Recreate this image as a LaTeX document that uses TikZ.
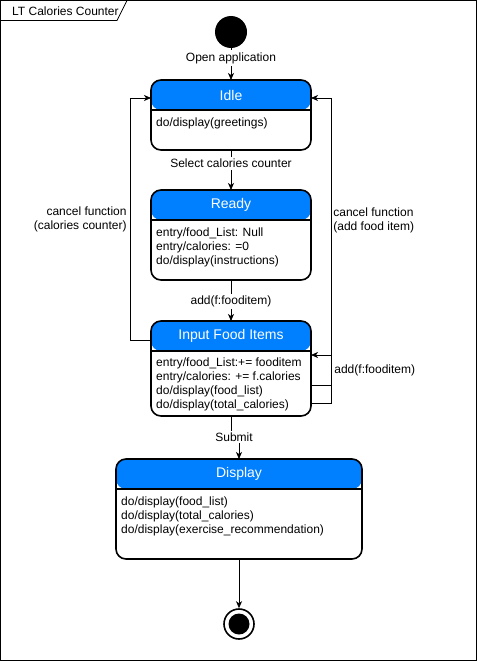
\documentclass[tikz,border=0pt]{standalone}
\usepackage{fontspec}
\setmainfont{Liberation Sans}
\usetikzlibrary{positioning, calc, arrows.meta}
\definecolor{hdrblue}{RGB}{0,127,255}

\begin{document}
\begin{tikzpicture}[
    x=1pt, y=-1pt,
    state/.style={rectangle, draw, line width=1.6pt, rounded corners=10pt, outer sep=0pt, inner sep=0pt, fill=white,
        path picture={
            \fill[hdrblue] (path picture bounding box.north west) rectangle ([yshift=-30pt]path picture bounding box.north east);
            \draw[line width=1.6pt] ([yshift=-30pt]path picture bounding box.north west) -- ([yshift=-30pt]path picture bounding box.north east);
        }},
    hdr/.style={font=\fontsize{14}{16}\selectfont, text=white, inner sep=0pt},
    body/.style={font=\fontsize{12}{14}\selectfont, align=left, inner sep=0pt, anchor=north west},
    lbl/.style={font=\fontsize{12}{14}\selectfont, fill=white, inner sep=2pt},
    arrow/.style={-{Stealth[length=7pt, width=6pt, inset=2pt]}, line width=0.8pt}
]
    \useasboundingbox (0,0) rectangle (477,661);
    \draw[line width=0.8pt] (0.5,0.5) rectangle (476.5,660.5);
    \draw[line width=0.8pt] (0.5,20.5) -- (117,20.5) -- (127,0.5);
    \node[font=\fontsize{12}{14}\selectfont, anchor=west, inner sep=0pt] (title) at (12,11.5) {LT Calories Counter};

    % start and end
    \node[circle, fill=black, minimum size=32pt, inner sep=0pt] (init) at (231,32) {};
    \node[circle, draw, line width=1.6pt, minimum size=30pt, inner sep=0pt] (final) at (239,624) {};
    \node[circle, fill=black, minimum size=21pt, inner sep=0pt] at (final) {};

    % states
    \node[state, minimum width=160pt, minimum height=70pt] (idle) at (231,115) {};
    \node[hdr] (idle-t) at ([yshift=-15pt]idle.north) {Idle};
    \node[body] at ([xshift=5pt, yshift=-38pt]idle.north west) {do/display(greetings)};

    \node[state, minimum width=160pt, minimum height=90pt] (ready) at (231,235) {};
    \node[hdr] (ready-t) at ([yshift=-15pt]ready.north) {Ready};
    \node[body] at ([xshift=5pt, yshift=-38pt]ready.north west) {entry/food\_List: Null\\entry/calories: =0\\do/display(instructions)};

    \node[state, minimum width=160pt, minimum height=95pt] (input) at (231,368.5) {};
    \node[hdr] (input-t) at ([yshift=-15pt]input.north) {Input Food Items};
    \node[body] at ([xshift=5pt, yshift=-37pt]input.north west) {entry/food\_List:+= fooditem\\entry/calories: += f.calories\\do/display(food\_list)\\do/display(total\_calories)};

    \node[state, minimum width=246pt, minimum height=100pt] (display) at (239,509) {};
    \node[hdr] (display-t) at ([yshift=-15pt]display.north) {Display};
    \node[body] at ([xshift=5pt, yshift=-38pt]display.north west) {do/display(food\_list)\\do/display(total\_calories)\\do/display(exercise\_recommendation)};

    % transitions
    \draw[arrow] (init) -- (idle) node[lbl, pos=0.31] {Open application};
    \draw[arrow] (idle) -- (ready) node[lbl, pos=0.33] {Select calories counter};
    \draw[arrow] (ready) -- (input) node[lbl, pos=0.53] {add(f:fooditem)};
    \draw[arrow] (input.south) -- ++(0,21) node[lbl, xshift=3pt] {Submit} -| (display.north);
    \draw[arrow] (display) -- (final);

    \draw[arrow] ([yshift=-4pt]input.west |- input-t) -- ++(-21,0) |- ([yshift=-3pt]idle.west |- idle-t)
        node[pos=0.25, anchor=east, align=right, font=\fontsize{12}{14}\selectfont, inner sep=3pt] {cancel function\\(calories counter)};
    \draw[arrow] (input.east |- 0,403) -- ++(20,0) |- ([yshift=-3pt]idle.east |- idle-t)
        node[pos=0.3, anchor=west, align=left, font=\fontsize{12}{14}\selectfont, inner sep=2pt] {cancel function\\(add food item)};
    \draw[arrow] (input.east |- 0,385) -- ++(20,0) |- (input.east |- 0,355)
        node[pos=0.25, anchor=west, font=\fontsize{12}{14}\selectfont, inner sep=3pt] {add(f:fooditem)};
\end{tikzpicture}
\end{document}
